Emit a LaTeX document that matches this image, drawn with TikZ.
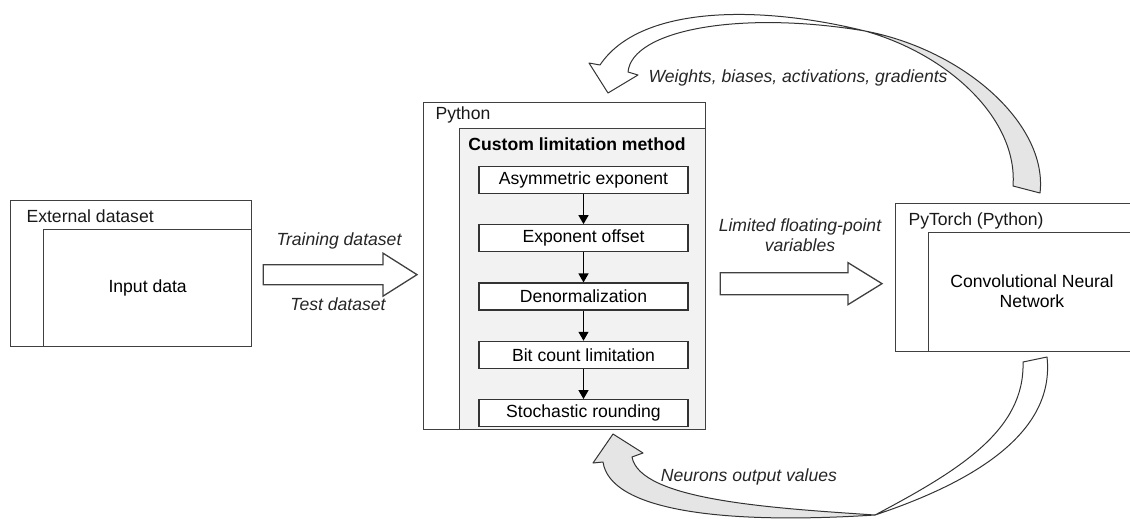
\documentclass[tikz,border=0pt]{standalone}
\usepackage{fontspec}
\setmainfont{Liberation Sans}
\usetikzlibrary{arrows.meta,positioning,calc}

\begin{document}
\begin{tikzpicture}[
  x=1pt, y=-1pt,
  font=\fontsize{17.6pt}{20pt}\selectfont,
  frame/.style={draw=black!75, line width=1.3pt, inner sep=0pt, anchor=north west},
  innerframe/.style={frame, fill=white},
  methodframe/.style={frame, fill=black!5},
  stepbox/.style={draw=black!80, line width=1.3pt, fill=white, inner sep=0pt,
                  minimum width=209pt, minimum height=27pt},
  steparr/.style={-{Triangle[width=10pt,length=9pt]}, line width=1.3pt, draw=black},
  fatarr/.style={draw=black!75, line width=1.3pt, fill=white, line join=miter},
  ribbon/.style={draw=black!80, line width=1pt, line join=round},
  caption/.style={anchor=west, text=black!90},
  flowlabel/.style={font=\fontsize{17.6pt}{20pt}\selectfont\itshape, text=black!85, align=center}
]
  \useasboundingbox (0,0) rectangle (1130,519);

  % External dataset
  \node[frame, minimum width=241pt, minimum height=146pt] (ext) at (10,200) {};
  \node[innerframe, minimum width=208pt, minimum height=117pt] (extin) at (43,229) {};
  \node[caption] (exttext) at (23,216) {External dataset};
  \node (input) at (extin.center) {Input data};

  % Python with the limitation method
  \node[frame, minimum width=282pt, minimum height=327pt] (python) at (423,102) {};
  \node[methodframe, minimum width=246pt, minimum height=301pt] (method) at (459,128) {};
  \node[caption] (pytext) at (432,115) {Python};
  \node[font=\fontsize{17.6pt}{20pt}\selectfont\bfseries] (methodtitle) at (577,144)
       {Custom limitation method};
  \node[stepbox] (asym) at (583.5,180) {Asymmetric exponent};
  \node[stepbox, below=30pt of asym] (offset) {Exponent offset};
  \node[stepbox, below=30pt of offset] (denorm) {Denormalization};
  \node[stepbox, below=30pt of denorm] (bitcount) {Bit count limitation};
  \node[stepbox, below=30pt of bitcount] (stoch) {Stochastic rounding};
  \foreach \a/\b in {asym/offset, offset/denorm, denorm/bitcount, bitcount/stoch}
    \draw[steparr] (\a) -- (\b);

  % PyTorch
  \node[frame, minimum width=240pt, minimum height=148pt] (torch) at (895,203) {};
  \node[innerframe, minimum width=207pt, minimum height=119pt] (torchin) at (928,232) {};
  \node[caption] (torchtext) at (905,221) {PyTorch (Python)};
  \node[align=center] (cnn) at (1032,291) {Convolutional Neural\\Network};

  % Block arrows
  \coordinate (dsstart) at ($(ext.east)+(11,1)$);
  \coordinate (dsend) at ($(python.west |- dsstart)+(-6,0)$);
  \draw[fatarr] ($(dsstart)+(0,-10)$) -- ($(dsend)+(-34,-10)$) -- ($(dsend)+(-34,-21.5)$)
     -- (dsend) -- ($(dsend)+(-34,21.5)$) -- ($(dsend)+(-34,10)$) -- ($(dsstart)+(0,10)$) -- cycle;
  \node[flowlabel] (trainlbl) at (339,241) {Training dataset};
  \node[flowlabel] (testlbl) at (338,304) {Test dataset};

  \coordinate (fpstart) at ($(python.east)+(14,17.5)$);
  \coordinate (fpend) at ($(torch.west |- fpstart)+(-13,0)$);
  \draw[fatarr] ($(fpstart)+(0,-11)$) -- ($(fpend)+(-34,-11)$) -- ($(fpend)+(-34,-21)$)
     -- (fpend) -- ($(fpend)+(-34,21)$) -- ($(fpend)+(-34,11)$) -- ($(fpstart)+(0,11)$) -- cycle;
  \node[flowlabel] (fplbl) at (800,235) {Limited floating-point\\variables};

  % Twisted ribbon: PyTorch -> Python (top)
  \draw[ribbon, fill=black!10] (1040,193) .. controls (1048,125) and (965,50) .. (865,31)
     .. controls (950,55) and (1018,120) .. (1013,186) -- cycle;
  \draw[ribbon, fill=white] (865,31) .. controls (760,5) and (640,5) .. (600,65)
     -- (589,63) -- (608,93) -- (638,75) -- (628,72)
     .. controls (632,30) and (740,10) .. (865,31) -- cycle;
  \node[flowlabel, anchor=west] (weightlbl) at (645,78) {Weights, biases, activations, gradients};

  % Twisted ribbon: PyTorch -> Python (bottom)
  \draw[ribbon, fill=white] (1047,357) .. controls (1055,430) and (980,480) .. (875,515)
     .. controls (960,470) and (1025,430) .. (1023,362) -- cycle;
  \draw[ribbon, fill=black!10] (875,515) .. controls (720,525) and (610,510) .. (603,462)
     -- (593,463) -- (613,434) -- (643,453) -- (632,457)
     .. controls (640,500) and (770,508) .. (875,515) -- cycle;
  \node[flowlabel] (neuronlbl) at (749,477) {Neurons output values};
\end{tikzpicture}
\end{document}
